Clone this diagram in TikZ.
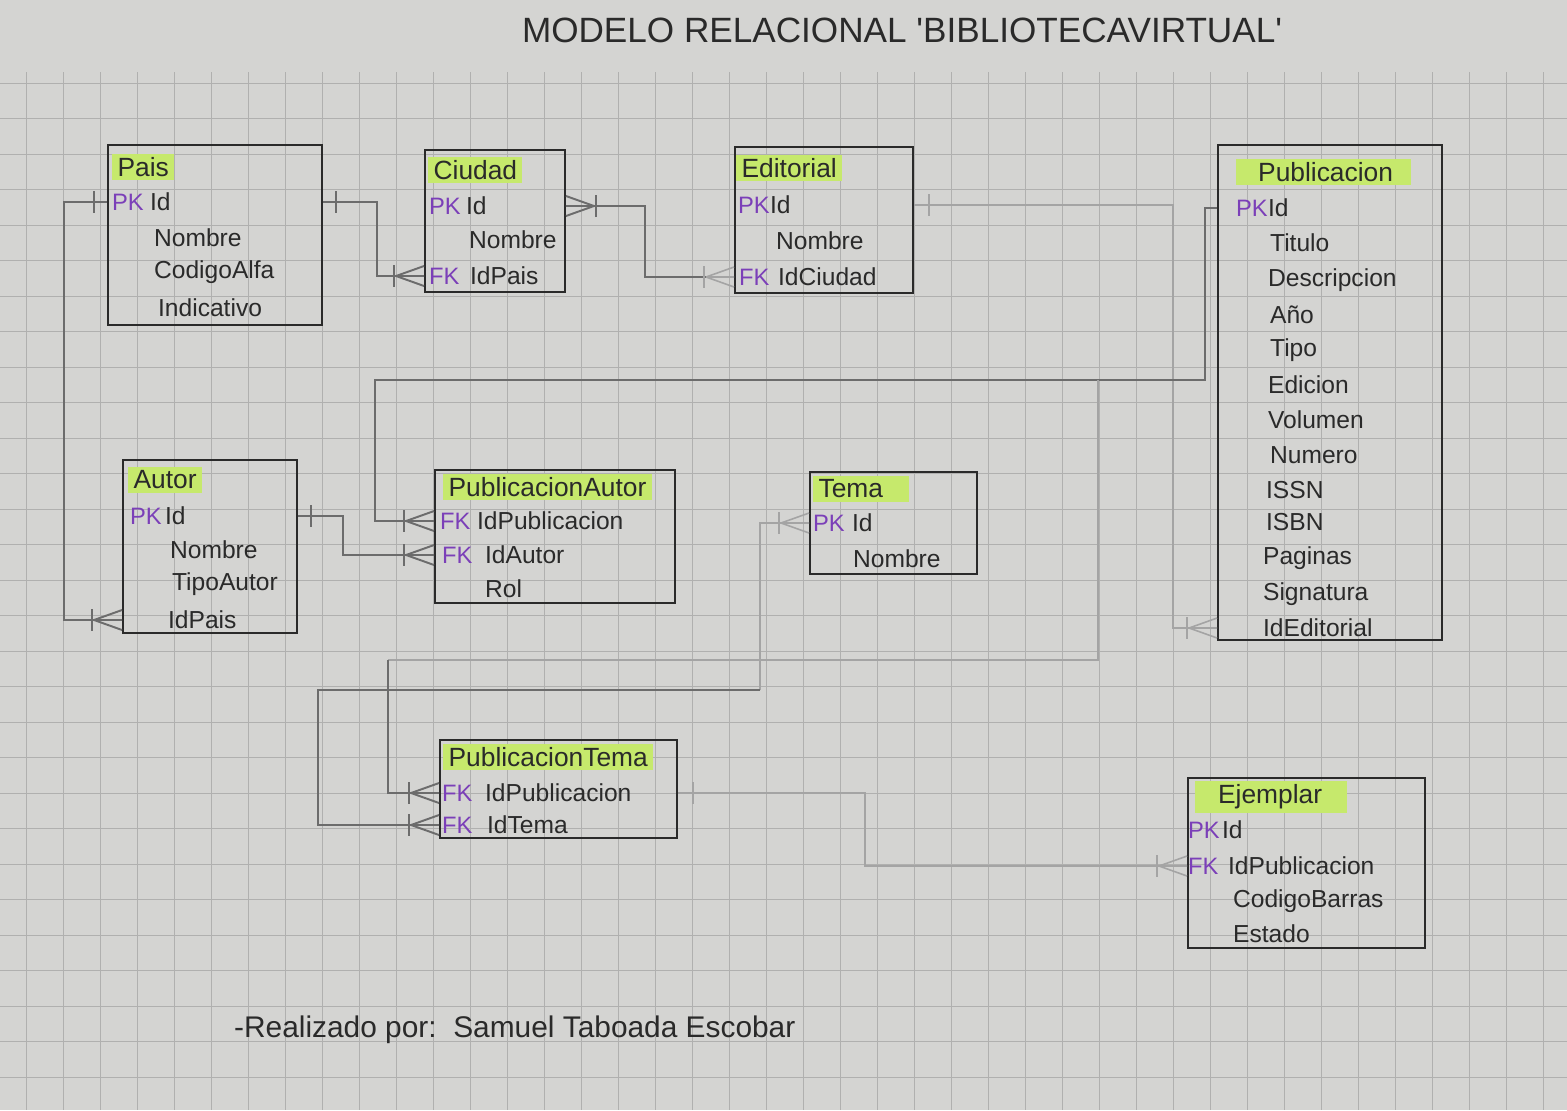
\documentclass[tikz,border=0pt]{standalone}
\usepackage{fontspec}
\setmainfont{Liberation Sans}
\newfontfamily\titlefont[Ligatures=ResetAll]{Liberation Sans}
\usetikzlibrary{positioning,fit,calc}

\definecolor{paper}{HTML}{D4D4D2}
\definecolor{gridgrey}{HTML}{B0B0AF}
\definecolor{ink}{HTML}{2A2A2A}
\definecolor{pencil}{HTML}{6C6C6C}
\definecolor{pencillight}{HTML}{A4A4A4}
\definecolor{hilite}{HTML}{C6E96C}
\definecolor{keypurple}{HTML}{7B3FB8}

\tikzstyle{gridline} =[draw=gridgrey, line width=0.5pt]
\tikzstyle{tablebox} =[draw=ink, line width=1.1pt, inner sep=0pt]
\tikzstyle{header}   =[anchor=west, fill=hilite, inner xsep=3pt, inner ysep=2pt,
                        text=ink, font=\fontsize{15}{17}\selectfont]
\tikzstyle{attr}     =[anchor=west, inner sep=1pt, text=ink, font=\fontsize{14}{16}\selectfont]
\tikzstyle{keytag}   =[anchor=west, inner sep=1pt, text=keypurple, font=\fontsize{13.5}{16}\selectfont]
\tikzstyle{rel}      =[draw=pencil, line width=1.1pt]
\tikzstyle{rellight} =[draw=pencillight, line width=0.9pt]

\tikzset{
  crowfoot/.pic={
    \draw (-28,0) -- (0,-10) (-28,0) -- (0,0) (-28,0) -- (0,10);
    \draw (-30,-11) -- (-30,11);
  },
  onetick/.pic={\draw (0,-11) -- (0,11);}
}

\begin{document}
\begin{tikzpicture}[x=0.02cm, y=-0.02cm]

  % ── paper ────────────────────────────────────────────────────────────────
  \fill[paper] (0,0) rectangle (1567,1110);
  \useasboundingbox (0,0) rectangle (1567,1110);
  \foreach \gx in {26,63,...,1567} \draw[gridline] (\gx,72) -- (\gx,1110);
  \foreach \gy in {83,118.5,...,1110} \draw[gridline] (0,\gy) -- (1567,\gy);

  \node[text=ink, font=\titlefont\fontsize{20}{22}\selectfont] (title) at (902,30)
    {MODELO RELACIONAL 'BIBLIOTECAVIRTUAL'};

  % ── tables (boxes at explicit coordinates) ───────────────────────────────
  \node[tablebox, fit={(108,145) (322,325)}]   (pais)       {};
  \node[tablebox, fit={(425,150) (565,292)}]   (ciudad)     {};
  \node[tablebox, fit={(735,147) (913,293)}]   (editorial)  {};
  \node[tablebox, fit={(1218,145) (1442,640)}] (publicacion){};
  \node[tablebox, fit={(123,460) (297,633)}]   (autor)      {};
  \node[tablebox, fit={(435,470) (675,603)}]   (pubautor)   {};
  \node[tablebox, fit={(810,472) (977,574)}]   (tema)       {};
  \node[tablebox, fit={(440,740) (677,838)}]   (pubtema)    {};
  \node[tablebox, fit={(1188,778) (1425,948)}] (ejemplar)   {};

  % Pais
  \node[header] at (112,167) {Pais};
  \node[keytag] at (110,202) {PK};
  \node[attr] (pais-id)     at (148,202) {Id};
  \node[attr] (pais-nombre) at (152,238) {Nombre};
  \node[attr] (pais-codigo) at (152,272) {CodigoAlfa};
  \node[attr] (pais-indic)  at (156,308) {Indicativo};

  % Ciudad
  \node[header] at (428,170) {Ciudad};
  \node[keytag] at (427,206) {PK};
  \node[attr] (ciudad-id)     at (464,206) {Id};
  \node[attr] (ciudad-nombre) at (467,240) {Nombre};
  \node[keytag] at (427,276) {FK};
  \node[attr] (ciudad-idpais) at (468,276) {IdPais};

  % Editorial
  \node[header] at (736,168) {Editorial};
  \node[keytag] at (736,205) {PK};
  \node[attr] (editorial-id)       at (768,205) {Id};
  \node[attr] (editorial-nombre)   at (774,241) {Nombre};
  \node[keytag] at (737,277) {FK};
  \node[attr] (editorial-idciudad) at (776,277) {IdCiudad};

  % Publicacion
  \node[header, minimum width=3.5cm] at (1236,172) {\hspace*{2pt}Publicacion};
  \node[keytag] at (1234,208) {PK};
  \node[attr] (publicacion-id)    at (1266,208) {Id};
  \node[attr] (publicacion-tit)   at (1268,243) {Titulo};
  \node[attr] (publicacion-desc)  at (1266,280) {Descripcion};
  \node[attr] (publicacion-anio)  at (1268,315) {Año};
  \node[attr] (publicacion-tipo)  at (1268,350) {Tipo};
  \node[attr] (publicacion-edic)  at (1266,385) {Edicion};
  \node[attr] (publicacion-vol)   at (1266,420) {Volumen};
  \node[attr] (publicacion-num)   at (1268,455) {Numero};
  \node[attr] (publicacion-issn)  at (1264,490) {ISSN};
  \node[attr] (publicacion-isbn)  at (1264,522) {ISBN};
  \node[attr] (publicacion-pag)   at (1261,558) {Paginas};
  \node[attr] (publicacion-sig)   at (1261,594) {Signatura};
  \node[attr] (publicacion-ideditorial) at (1261,628) {IdEditorial};

  % Autor
  \node[header] at (128,480) {Autor};
  \node[keytag] at (128,516) {PK};
  \node[attr] (autor-id)     at (163,516) {Id};
  \node[attr] (autor-nombre) at (168,550) {Nombre};
  \node[attr] (autor-tipo)   at (170,584) {TipoAutor};
  \node[attr] (autor-idpais) at (166,620) {IdPais};

  % PublicacionAutor
  \node[header] at (443,487) {PublicacionAutor};
  \node[keytag] at (438,521) {FK};
  \node[attr] (pubautor-idpub)   at (475,521) {IdPublicacion};
  \node[keytag] at (440,555) {FK};
  \node[attr] (pubautor-idautor) at (483,555) {IdAutor};
  \node[attr] (pubautor-rol)     at (483,589) {Rol};

  % Tema
  \node[header] at (813,489) {Tema\hspace*{12pt}};
  \node[keytag] at (811,523) {PK};
  \node[attr] (tema-id)     at (850,523) {Id};
  \node[attr] (tema-nombre) at (851,559) {Nombre};

  % PublicacionTema
  \node[header] at (443,757) {PublicacionTema};
  \node[keytag] at (440,793) {FK};
  \node[attr] (pubtema-idpub)  at (483,793) {IdPublicacion};
  \node[keytag] at (440,825) {FK};
  \node[attr] (pubtema-idtema) at (485,825) {IdTema};

  % Ejemplar
  \node[header] at (1195,797) {\hspace*{0.35cm}Ejemplar\hspace*{0.4cm}};
  \node[keytag] at (1186,830) {PK};
  \node[attr] (ejemplar-id)     at (1220,830) {Id};
  \node[keytag] at (1186,866) {FK};
  \node[attr] (ejemplar-idpub)  at (1226,866) {IdPublicacion};
  \node[attr] (ejemplar-codigo) at (1231,901) {CodigoBarras};
  \node[attr] (ejemplar-estado) at (1231,934) {Estado};

  \node[anchor=west, text=ink, font=\fontsize{17}{19}\selectfont] (firma) at (228,1030)
    {-Realizado por:\ \ Samuel Taboada Escobar};

  % ── relations ────────────────────────────────────────────────────────────
  % Pais -> Autor
  \draw[rel] (pais.west |- pais-id) -- (64,202) |- (autor.west |- autor-idpais);
  \pic[rel] at ($(pais.west |- pais-id)+(-13,0)$) {onetick};
  \pic[rel] at (autor.west |- autor-idpais) {crowfoot};

  % Pais -> Ciudad
  \draw[rel] (pais.east |- pais-id) -- (377,202) |- (ciudad.west |- ciudad-idpais);
  \pic[rel] at ($(pais.east |- pais-id)+(13,0)$) {onetick};
  \pic[rel] at (ciudad.west |- ciudad-idpais) {crowfoot};

  % Ciudad -> Editorial
  \draw[rel] (ciudad.east |- ciudad-id) -- (645,206) |- (editorial.west |- editorial-idciudad);
  \pic[rel, rotate=180] at (ciudad.east |- ciudad-id) {crowfoot};
  \pic[rellight] at (editorial.west |- editorial-idciudad) {crowfoot};

  % Editorial -> Publicacion
  \draw[rellight] (editorial.east |- editorial-id) -- (1173,205) |- (publicacion.west |- publicacion-ideditorial);
  \pic[rellight] at ($(editorial.east |- editorial-id)+(15,0)$) {onetick};
  \pic[rellight] at (publicacion.west |- publicacion-ideditorial) {crowfoot};

  % Publicacion -> PublicacionAutor
  \coordinate (split) at (1098,380);
  \draw[rel] (publicacion.west |- publicacion-id) -- (1205,208) -- (1205,380)
    -- (375,380) |- (pubautor.west |- pubautor-idpub);
  \pic[rel] at (pubautor.west |- pubautor-idpub) {crowfoot};

  % Publicacion -> PublicacionTema
  \draw[rellight] (split) -- (1098,660) -- (388,660);
  \draw[rel] (388,660) |- (pubtema.west |- pubtema-idpub);
  \pic[rel] at (pubtema.west |- pubtema-idpub) {crowfoot};

  % Tema -> PublicacionTema
  \draw[rellight] (tema.west |- tema-id) -- (760,523) -- (760,690);
  \draw[rel] (760,690) -- (318,690) |- (pubtema.west |- pubtema-idtema);
  \pic[rellight] at (tema.west |- tema-id) {crowfoot};
  \pic[rel] at (pubtema.west |- pubtema-idtema) {crowfoot};

  % Autor -> PublicacionAutor
  \draw[rel] (autor.east |- autor-id) -- (343,516) |- (pubautor.west |- pubautor-idautor);
  \pic[rel] at ($(autor.east |- autor-id)+(13,0)$) {onetick};
  \pic[rel] at (pubautor.west |- pubautor-idautor) {crowfoot};

  % PublicacionTema -> Ejemplar
  \draw[rellight] (pubtema.east |- pubtema-idpub) -- (865,793) |- (ejemplar.west |- ejemplar-idpub);
  \pic[rellight] at ($(pubtema.east |- pubtema-idpub)+(15,0)$) {onetick};
  \pic[rellight] at (ejemplar.west |- ejemplar-idpub) {crowfoot};

\end{tikzpicture}
\end{document}
